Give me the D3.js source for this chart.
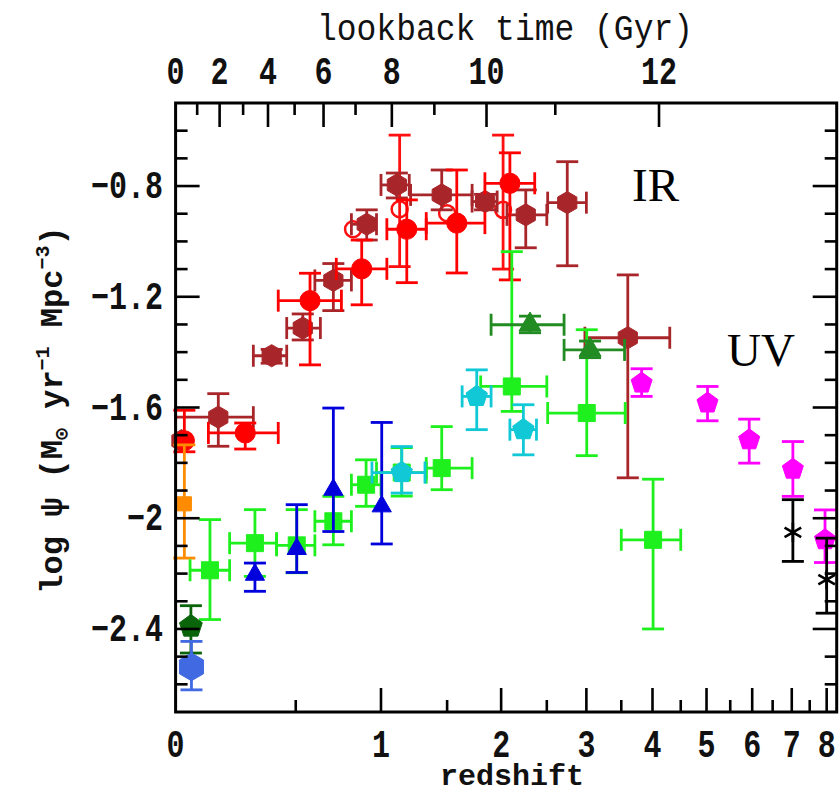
<!DOCTYPE html>
<html><head><meta charset="utf-8">
<script src="https://cdn.jsdelivr.net/npm/d3@7"></script>
<style>body{margin:0;background:#fff}</style>
</head><body>
<svg id="c" width="840" height="795" xmlns="http://www.w3.org/2000/svg"></svg>
<script>
// Each row: [z, log psi, zLow, zHigh, psiLow, psiHigh]   (null = no error bar)
const irBrownHex = [
  [0.02, -1.72, null, null, null, null],
  [0.155, -1.635, 0.0, 0.30, -1.74, -1.55],
  [0.383, -1.413, 0.30, 0.455, -1.44, -1.39],
  [0.536, -1.313, 0.455, 0.63, -1.356, -1.262],
  [0.703, -1.141, 0.60, 0.81, -1.25, -1.08],
  [0.906, -0.938, 0.81, 0.97, -0.995, -0.886],
  [1.11, -0.796, 1.0, 1.2, -0.843, -0.753],
  [1.455, -0.832, 1.21, 1.72, -0.886, -0.742],
  [1.842, -0.856, 1.72, 1.96, -0.886, -0.83],
  [2.26, -0.904, 2.06, 2.5, -1.023, -0.814],
  [2.75, -0.86, 2.51, 3.0, -1.088, -0.712],
  [3.6, -1.348, 2.98, 4.3, -1.854, -1.121]
];
const irRedOpen = [
  [0.82, -0.956, null, null, null, null],
  [1.13, -0.884, null, null, -1.091, -0.616],
  [1.50, -0.898, null, null, null, null],
  [2.02, -0.886, null, null, -1.10, -0.616]
];
const irRedCircle = [
  [0.03, -1.72, null, null, -1.76, -1.61],
  [0.265, -1.692, 0.117, 0.414, -1.75, -1.656],
  [0.574, -1.214, 0.414, 0.75, -1.446, -1.115],
  [0.874, -1.099, 0.72, 1.04, -1.229, -0.995],
  [1.182, -0.956, 1.04, 1.33, -1.149, -0.85],
  [1.583, -0.934, 1.33, 1.84, -1.114, -0.742],
  [2.09, -0.79, 1.84, 2.36, -1.139, -0.68]
];
const uvOrangeSquare = [[0.03, -1.948, null, null, -2.144, -1.735]];
const uvDarkGreenPentagon = [[0.053, -2.391, null, null, -2.487, -2.316]];
const uvRoyalBlueHex = [[0.055, -2.537, null, null, -2.62, -2.445]];
const uvGreenSquare = [
  [0.123, -2.188, 0.05, 0.2, -2.366, -2.005],
  [0.307, -2.09, 0.2, 0.406, -2.21, -1.969],
  [0.505, -2.098, 0.406, 0.6, -2.197, -1.969],
  [0.703, -2.011, 0.6, 0.81, -2.096, -1.921],
  [0.902, -1.879, 0.81, 1.0, -1.957, -1.789],
  [1.145, -1.835, 0.97, 1.33, -1.92, -1.745],
  [1.455, -1.819, 1.33, 1.72, -1.897, -1.669],
  [2.11, -1.524, 1.8, 2.5, -1.614, -1.037],
  [3.005, -1.62, 2.51, 3.56, -1.774, -1.319],
  [4.01, -2.078, 3.5, 4.5, -2.4, -1.859]
];
const uvBlueTriangle = [
  [0.307, -2.204, null, null, -2.264, -2.162],
  [0.505, -2.111, null, null, -2.196, -1.951],
  [0.703, -1.897, null, null, -2.048, -1.602],
  [1.005, -1.957, null, null, -2.093, -1.654]
];
const uvCyanPentagon = [
  [1.145, -1.835, 0.94, 1.32, -1.909, -1.741],
  [1.763, -1.56, 1.63, 1.9, -1.68, -1.464],
  [2.234, -1.68, 2.09, 2.38, -1.771, -1.59]
];
const uvDarkGreenTriangle = [
  [2.307, -1.301, 1.9, 2.71, -1.33, -1.27],
  [3.05, -1.392, 2.71, 3.55, -1.42, -1.36]
];
const uvMagentaPentagon = [
  [3.82, -1.512, null, null, -1.56, -1.46],
  [5.02, -1.584, null, null, -1.648, -1.524],
  [5.93, -1.717, null, null, -1.801, -1.642],
  [7.03, -1.823, null, null, -1.921, -1.723],
  [7.95, -2.078, null, null, -2.16, -1.97]
];
const uvBlackAsterisk = [
  [7.03, -2.051, null, null, -2.156, -1.933],
  [8.0, -2.222, null, null, -2.343, -2.072]
];

const yMajorTicks = [-2.4, -2, -1.6, -1.2, -0.8];
const yMinorTicks = [-2.6,-2.5,-2.3,-2.2,-2.1,-1.9,-1.8,-1.7,-1.5,-1.4,-1.3,-1.1,-1.0,-0.9,-0.7,-0.6];
const zLabelTicks = [0, 1, 2, 3, 4, 5, 6, 7, 8];
const zMinorTicks = [0.5, 1.5, 2.5, 3.5, 4.5, 5.5, 6.5, 7.5];
const lookbackLabelTicks = [0, 2, 4, 6, 8, 10, 12];
const lookbackMinorTicks = [1, 3, 5, 7, 9, 11];

// cosmology for the lookback-time axis (H0=70, Om=0.3, OL=0.7)
function lookback(z) {
  const n = 400, h = z / n;
  const f = t => 1 / ((1 + t) * Math.sqrt(0.3 * Math.pow(1 + t, 3) + 0.7));
  let s = f(0) + f(z);
  for (let i = 1; i < n; i++) s += (i % 2 ? 4 : 2) * f(i * h);
  return (977.8 / 70) * s * h / 3;
}
function zOfLookback(t) {
  if (t <= 0) return 0;
  let lo = 0, hi = 30;
  for (let i = 0; i < 60; i++) { const m = (lo + hi) / 2; if (lookback(m) < t) lo = m; else hi = m; }
  return (lo + hi) / 2;
}

const L = 175.6, R = 836.7, T = 103, B = 712;
const xs = d3.scaleLog().domain([1, 9.31]).range([L, R]);
const X = z => xs(1 + z);
const y = d3.scaleLinear().domain([-2.7, -0.5]).range([B, T]);

const svg = d3.select("#c");
const mono = "'Liberation Mono', 'DejaVu Sans Mono', monospace";

// custom polygon symbols
function polygonType(n, rot) {
  return { draw(ctx, size) {
    const r = Math.sqrt(size / (n / 2 * Math.sin(2 * Math.PI / n)));
    for (let i = 0; i < n; i++) {
      const a = rot + i * 2 * Math.PI / n;
      const px = r * Math.cos(a), py = r * Math.sin(a);
      if (i === 0) ctx.moveTo(px, py); else ctx.lineTo(px, py);
    }
    ctx.closePath();
  }};
}
const hexType = polygonType(6, -Math.PI / 2);
const pentType = polygonType(5, -Math.PI / 2);

const plot = svg.append("g");

function drawSeries(data, color, type, size, opts = {}) {
  const g = plot.append("g").attr("stroke", color).attr("stroke-width", 2.8).attr("fill", "none");
  const cap = opts.cap || 11;
  data.forEach(d => {
    const [z, v, zlo, zhi, vlo, vhi] = d;
    const cx = X(z), cy = y(v);
    if (zlo !== null) {
      g.append("line").attr("x1", X(zlo)).attr("x2", X(zhi)).attr("y1", cy).attr("y2", cy);
      [zlo, zhi].forEach(e => g.append("line").attr("x1", X(e)).attr("x2", X(e)).attr("y1", cy - cap).attr("y2", cy + cap));
    }
    if (vlo !== null) {
      g.append("line").attr("x1", cx).attr("x2", cx).attr("y1", y(vlo)).attr("y2", y(vhi));
      [vlo, vhi].forEach(e => g.append("line").attr("x1", cx - cap).attr("x2", cx + cap).attr("y1", y(e)).attr("y2", y(e)));
    }
  });
  const sym = d3.symbol().type(type).size(size);
  g.selectAll("path.m").data(data).join("path").attr("class", "m")
    .attr("transform", d => `translate(${X(d[0])},${y(d[1])})`)
    .attr("d", sym)
    .attr("fill", opts.open || opts.stroke ? "none" : color)
    .attr("stroke", color)
    .attr("stroke-width", opts.open ? 2.5 : (opts.stroke ? 2.6 : 1));
}

// IR
drawSeries(irRedOpen, "#ff1010", d3.symbolCircle, 200, { open: true });
drawSeries(irBrownHex, "#a8262a", hexType, 320);
drawSeries(irRedCircle, "#ff0000", d3.symbolCircle, 320);
// UV
drawSeries(uvOrangeSquare, "#ff8c00", d3.symbolSquare, 200);
drawSeries(uvGreenSquare, "#1ef01e", d3.symbolSquare, 290);
drawSeries(uvBlueTriangle, "#0000dd", d3.symbolTriangle, 160);
drawSeries(uvCyanPentagon, "#10c8d6", pentType, 300);
drawSeries(uvDarkGreenTriangle, "#228b22", d3.symbolTriangle, 210);
drawSeries(uvMagentaPentagon, "#ff00ff", pentType, 290);
drawSeries(uvBlackAsterisk, "#000000", d3.symbolAsterisk, 260, { stroke: true });
drawSeries(uvDarkGreenPentagon, "#0a640a", pentType, 340);
drawSeries(uvRoyalBlueHex, "#4169e1", hexType, 500);

// frame and ticks
const ax = svg.append("g").attr("stroke", "#000").attr("stroke-width", 2.6);
function tick(x1, y1, x2, y2) { ax.append("line").attr("x1", x1).attr("y1", y1).attr("x2", x2).attr("y2", y2); }
const MJ = 24, MN = 12;
zLabelTicks.filter(z => z > 0).forEach(z => tick(X(z), B, X(z), B - MJ));
zMinorTicks.forEach(z => tick(X(z), B, X(z), B - MN));
lookbackLabelTicks.filter(t => t > 0).forEach(t => { const xx = X(zOfLookback(t)); tick(xx, T, xx, T + MJ); });
lookbackMinorTicks.forEach(t => { const xx = X(zOfLookback(t)); tick(xx, T, xx, T + MN); });
yMajorTicks.forEach(v => { tick(L, y(v), L + MJ, y(v)); tick(R, y(v), R - MJ, y(v)); });
yMinorTicks.forEach(v => { tick(L, y(v), L + MN, y(v)); tick(R, y(v), R - MN, y(v)); });
svg.append("rect").attr("x", L).attr("y", T).attr("width", R - L).attr("height", B - T)
  .attr("fill", "none").attr("stroke", "#000").attr("stroke-width", 3);

// tick labels (slightly tall glyphs, like the original plotting font)
const txt = svg.append("g").attr("font-family", mono).attr("font-weight", "bold").attr("fill", "#111");
const SY = 1.28;
txt.selectAll("text.zl").data(zLabelTicks).join("text").attr("class", "zl")
  .attr("transform", d => `translate(${X(d)},757) scale(1,${SY})`)
  .attr("text-anchor", "middle").attr("font-size", 30).text(d => d);
txt.selectAll("text.tl").data(lookbackLabelTicks).join("text").attr("class", "tl")
  .attr("transform", d => `translate(${X(zOfLookback(d))},84) scale(1,${SY})`)
  .attr("text-anchor", "middle").attr("font-size", 30).text(d => d);
const fmtY = v => "\u2212" + (Number.isInteger(v) ? Math.abs(v) : Math.abs(v).toFixed(1));
txt.selectAll("text.yl").data(yMajorTicks).join("text").attr("class", "yl")
  .attr("transform", d => `translate(163,${y(d) + 12}) scale(1,${SY})`)
  .attr("text-anchor", "end").attr("font-size", 30).text(fmtY);

// axis titles
txt.append("text").attr("transform", "translate(505,40) scale(1,1.12)").attr("text-anchor", "middle")
  .attr("font-size", 33).attr("font-weight", "normal").text("lookback time (Gyr)");
txt.append("text").attr("x", 512).attr("y", 785).attr("text-anchor", "middle").attr("font-size", 30)
  .text("redshift");
const yl = txt.append("text").attr("transform", "translate(62,410) rotate(-90)")
  .attr("text-anchor", "middle").attr("font-size", 32);
yl.append("tspan").text("log \u03C8 (M");
yl.append("tspan").attr("font-size", 20).attr("dy", 6).text("\u2299");
yl.append("tspan").attr("dy", -6).text(" yr");
yl.append("tspan").attr("font-size", 20).attr("dy", -13).text("\u22121");
yl.append("tspan").attr("dy", 13).text(" Mpc");
yl.append("tspan").attr("font-size", 20).attr("dy", -13).text("\u22123");
yl.append("tspan").attr("dy", 13).text(")");

// region labels
const serif = "'Liberation Serif', 'DejaVu Serif', serif";
svg.append("text").attr("x", 632).attr("y", 201).attr("font-family", serif).attr("font-size", 47).text("IR");
svg.append("text").attr("x", 727).attr("y", 366).attr("font-family", serif).attr("font-size", 47).text("UV");
</script>
</body></html>
